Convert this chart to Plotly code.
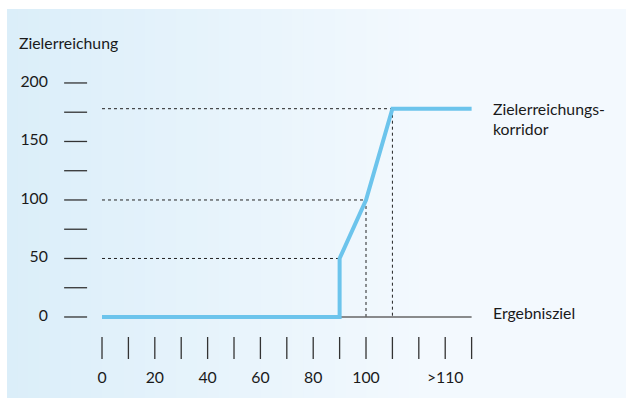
import plotly.graph_objects as go

# Kennlinie
curve_x = [0, 90, 90, 100, 110, 140]
curve_y = [0, 0, 50, 100, 178, 178]

# Hilfslinien (gestrichelt)
guide_points_x = [90, 100, 110]
guide_points_y = [50, 100, 178]

# Achsen
y_tick_marks = [0, 25, 50, 75, 100, 125, 150, 175, 200]
y_tick_labels = [0, 50, 100, 150, 200]
x_tick_marks = [0, 10, 20, 30, 40, 50, 60, 70, 80, 90, 100, 110, 120, 130, 140]
x_label_pos = [0, 20, 40, 60, 80, 100, 130]
x_label_text = ["0", "20", "40", "60", "80", "100", ">110"]

baseline_x = [90, 140]
baseline_y = [0, 0]

FONT = "Lato, 'Noto Sans', sans-serif"
TEXT = "#1a1a1a"
BLUE = "#6cc4ec"
FS = 15.8

fig = go.Figure()

# Hintergrund-Verlauf
left = (219, 238, 249)
right = (243, 249, 254)
x0, x1, x_flat = 7 / 626, 1.0, 430 / 626
steps = 40
shapes = []
for i in range(steps):
    a = x0 + (x_flat - x0) * i / steps
    b = x0 + (x_flat - x0) * (i + 1) / steps + 0.002
    t = i / (steps - 1)
    c = tuple(round(left[k] + (right[k] - left[k]) * t) for k in range(3))
    shapes.append(dict(type="rect", xref="paper", yref="paper",
                       x0=a, x1=b, y0=3 / 401, y1=392 / 401,
                       fillcolor="rgb(%d,%d,%d)" % c, line=dict(width=0), layer="below"))
shapes.append(dict(type="rect", xref="paper", yref="paper",
                   x0=x_flat, x1=x1, y0=3 / 401, y1=392 / 401,
                   fillcolor="rgb(%d,%d,%d)" % right, line=dict(width=0), layer="below"))

# gestrichelte Hilfslinien
for gx, gy in zip(guide_points_x, guide_points_y):
    fig.add_trace(go.Scatter(x=[0, gx], y=[gy, gy], mode="lines",
                             line=dict(color="#222", width=1, dash="dot"),
                             hoverinfo="skip", showlegend=False))
    if gx != curve_x[1]:
        fig.add_trace(go.Scatter(x=[gx, gx], y=[gy, 0], mode="lines",
                                 line=dict(color="#222", width=1, dash="dot"),
                                 hoverinfo="skip", showlegend=False))

# Grundlinie
fig.add_trace(go.Scatter(x=baseline_x, y=baseline_y, mode="lines",
                         line=dict(color="#666", width=1.5),
                         hoverinfo="skip", showlegend=False))

# Kennlinie
fig.add_trace(go.Scatter(x=curve_x, y=curve_y, mode="lines",
                         line=dict(color=BLUE, width=4),
                         showlegend=False))

# Tick-Striche
fig.add_trace(go.Scatter(x=[-10] * len(y_tick_marks), y=y_tick_marks, mode="markers",
                         marker=dict(symbol="line-ew", size=16.4,
                                     line=dict(color="#333", width=1.3)),
                         hoverinfo="skip", showlegend=False))
fig.add_trace(go.Scatter(x=x_tick_marks, y=[-26.5] * len(x_tick_marks), mode="markers",
                         marker=dict(symbol="line-ns", size=15.7,
                                     line=dict(color="#333", width=1.3)),
                         hoverinfo="skip", showlegend=False))

# Tick-Beschriftungen
fig.add_trace(go.Scatter(x=[-20.5] * len(y_tick_labels), y=y_tick_labels, mode="text",
                         text=[str(v) for v in y_tick_labels], textposition="middle left",
                         textfont=dict(family=FONT, size=FS, color=TEXT),
                         hoverinfo="skip", showlegend=False))
fig.add_trace(go.Scatter(x=x_label_pos, y=[-53] * len(x_label_pos), mode="text",
                         text=x_label_text, textposition="middle center",
                         textfont=dict(family=FONT, size=FS, color=TEXT),
                         hoverinfo="skip", showlegend=False))

annotations = [
    dict(x=-32.3, y=235, text="Zielerreichung", xanchor="left"),
    dict(x=147.5, y=178.5, text="Zielerreichungs-", xanchor="left"),
    dict(x=147.5, y=161, text="korridor", xanchor="left"),
    dict(x=147.5, y=4, text="Ergebnisziel", xanchor="left"),
]
for a in annotations:
    a.update(xref="x", yref="y", showarrow=False, yanchor="middle",
             font=dict(family=FONT, size=FS, color=TEXT))

fig.update_layout(
    width=626,
    height=401,
    margin=dict(l=0, r=0, t=0, b=0),
    paper_bgcolor="white",
    plot_bgcolor="rgba(0,0,0,0)",
    shapes=shapes,
    annotations=annotations,
    xaxis=dict(range=[-38.64, 198.48], visible=False, fixedrange=True),
    yaxis=dict(range=[-71.8, 270.9], visible=False, fixedrange=True),
)

fig.write_html("out.html", config={"displayModeBar": False},
               post_script="document.body.style.margin='0';")
